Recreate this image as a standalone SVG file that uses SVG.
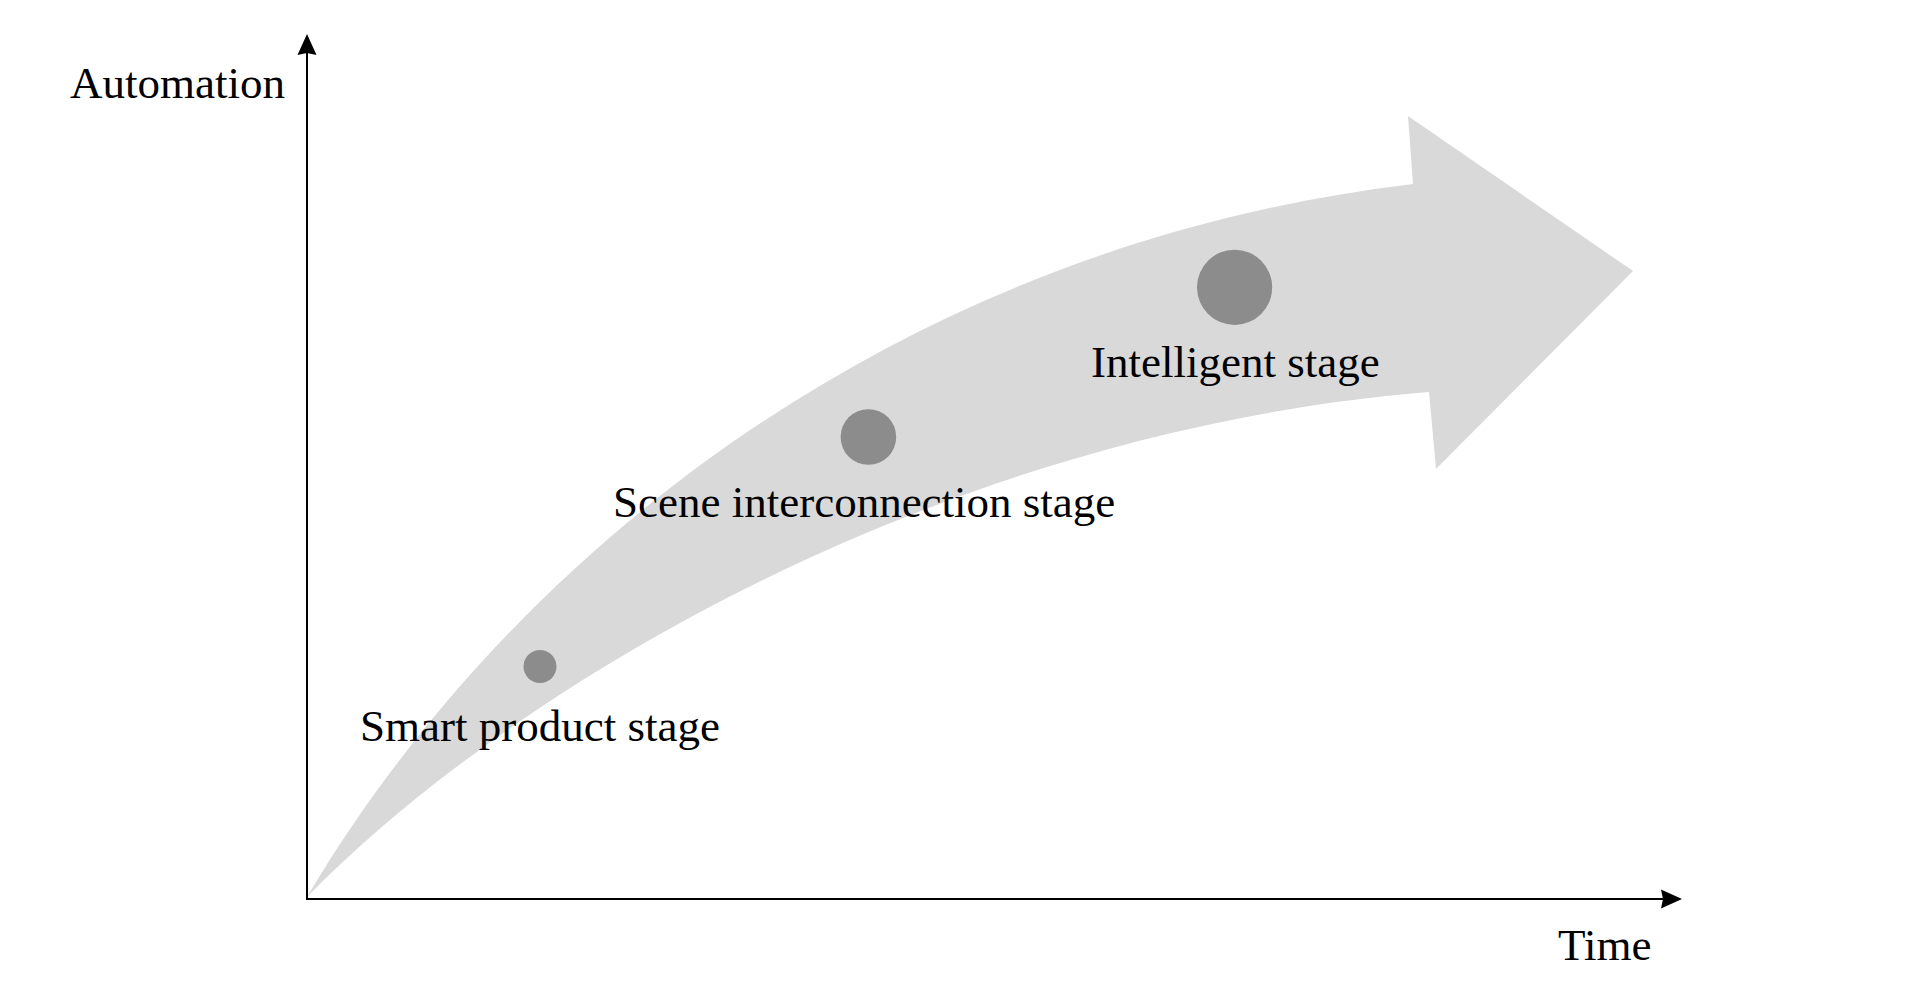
<svg xmlns="http://www.w3.org/2000/svg" width="1930" height="991" viewBox="0 0 1930 991">
<style>
.lbl{font-family:"Liberation Serif","Times New Roman",serif;font-size:45px;fill:#000}
.axis{stroke:#000;stroke-width:2;fill:none}
.dot{fill:#8c8c8c}
</style>
<rect width="1930" height="991" fill="#fff"/>
<g id="band">
<path d="M307,897 C507.7,558.6 892.3,246.5 1413,184 L1408,116 L1633,271 L1436,469 L1429,392 C939.7,431.1 508.4,689.9 307,897 Z" fill="#d9d9d9"/>
</g>
<g id="connectors">
<line class="axis" x1="307" y1="899" x2="307" y2="50"/>
<path d="M307,34 L316.5,55 L307,53 L297.5,55 Z" fill="#000"/>
<line class="axis" x1="306" y1="899" x2="1668" y2="899"/>
<path d="M1682,899 L1661,908.5 L1663,899 L1661,889.5 Z" fill="#000"/>
</g>
<g id="axis-y-label"><text class="lbl" x="70" y="98">Automation</text></g>
<g id="axis-x-label"><text class="lbl" x="1558" y="960">Time</text></g>
<g id="stage-smart">
<circle class="dot" cx="540" cy="666.5" r="16.5"/>
<text class="lbl" x="360" y="741">Smart product stage</text>
</g>
<g id="stage-scene">
<circle class="dot" cx="868.4" cy="437" r="27.8"/>
<text class="lbl" x="613" y="517">Scene interconnection stage</text>
</g>
<g id="stage-intelligent">
<circle class="dot" cx="1234.6" cy="287.3" r="37.6"/>
<text class="lbl" x="1091" y="377">Intelligent stage</text>
</g>
</svg>
